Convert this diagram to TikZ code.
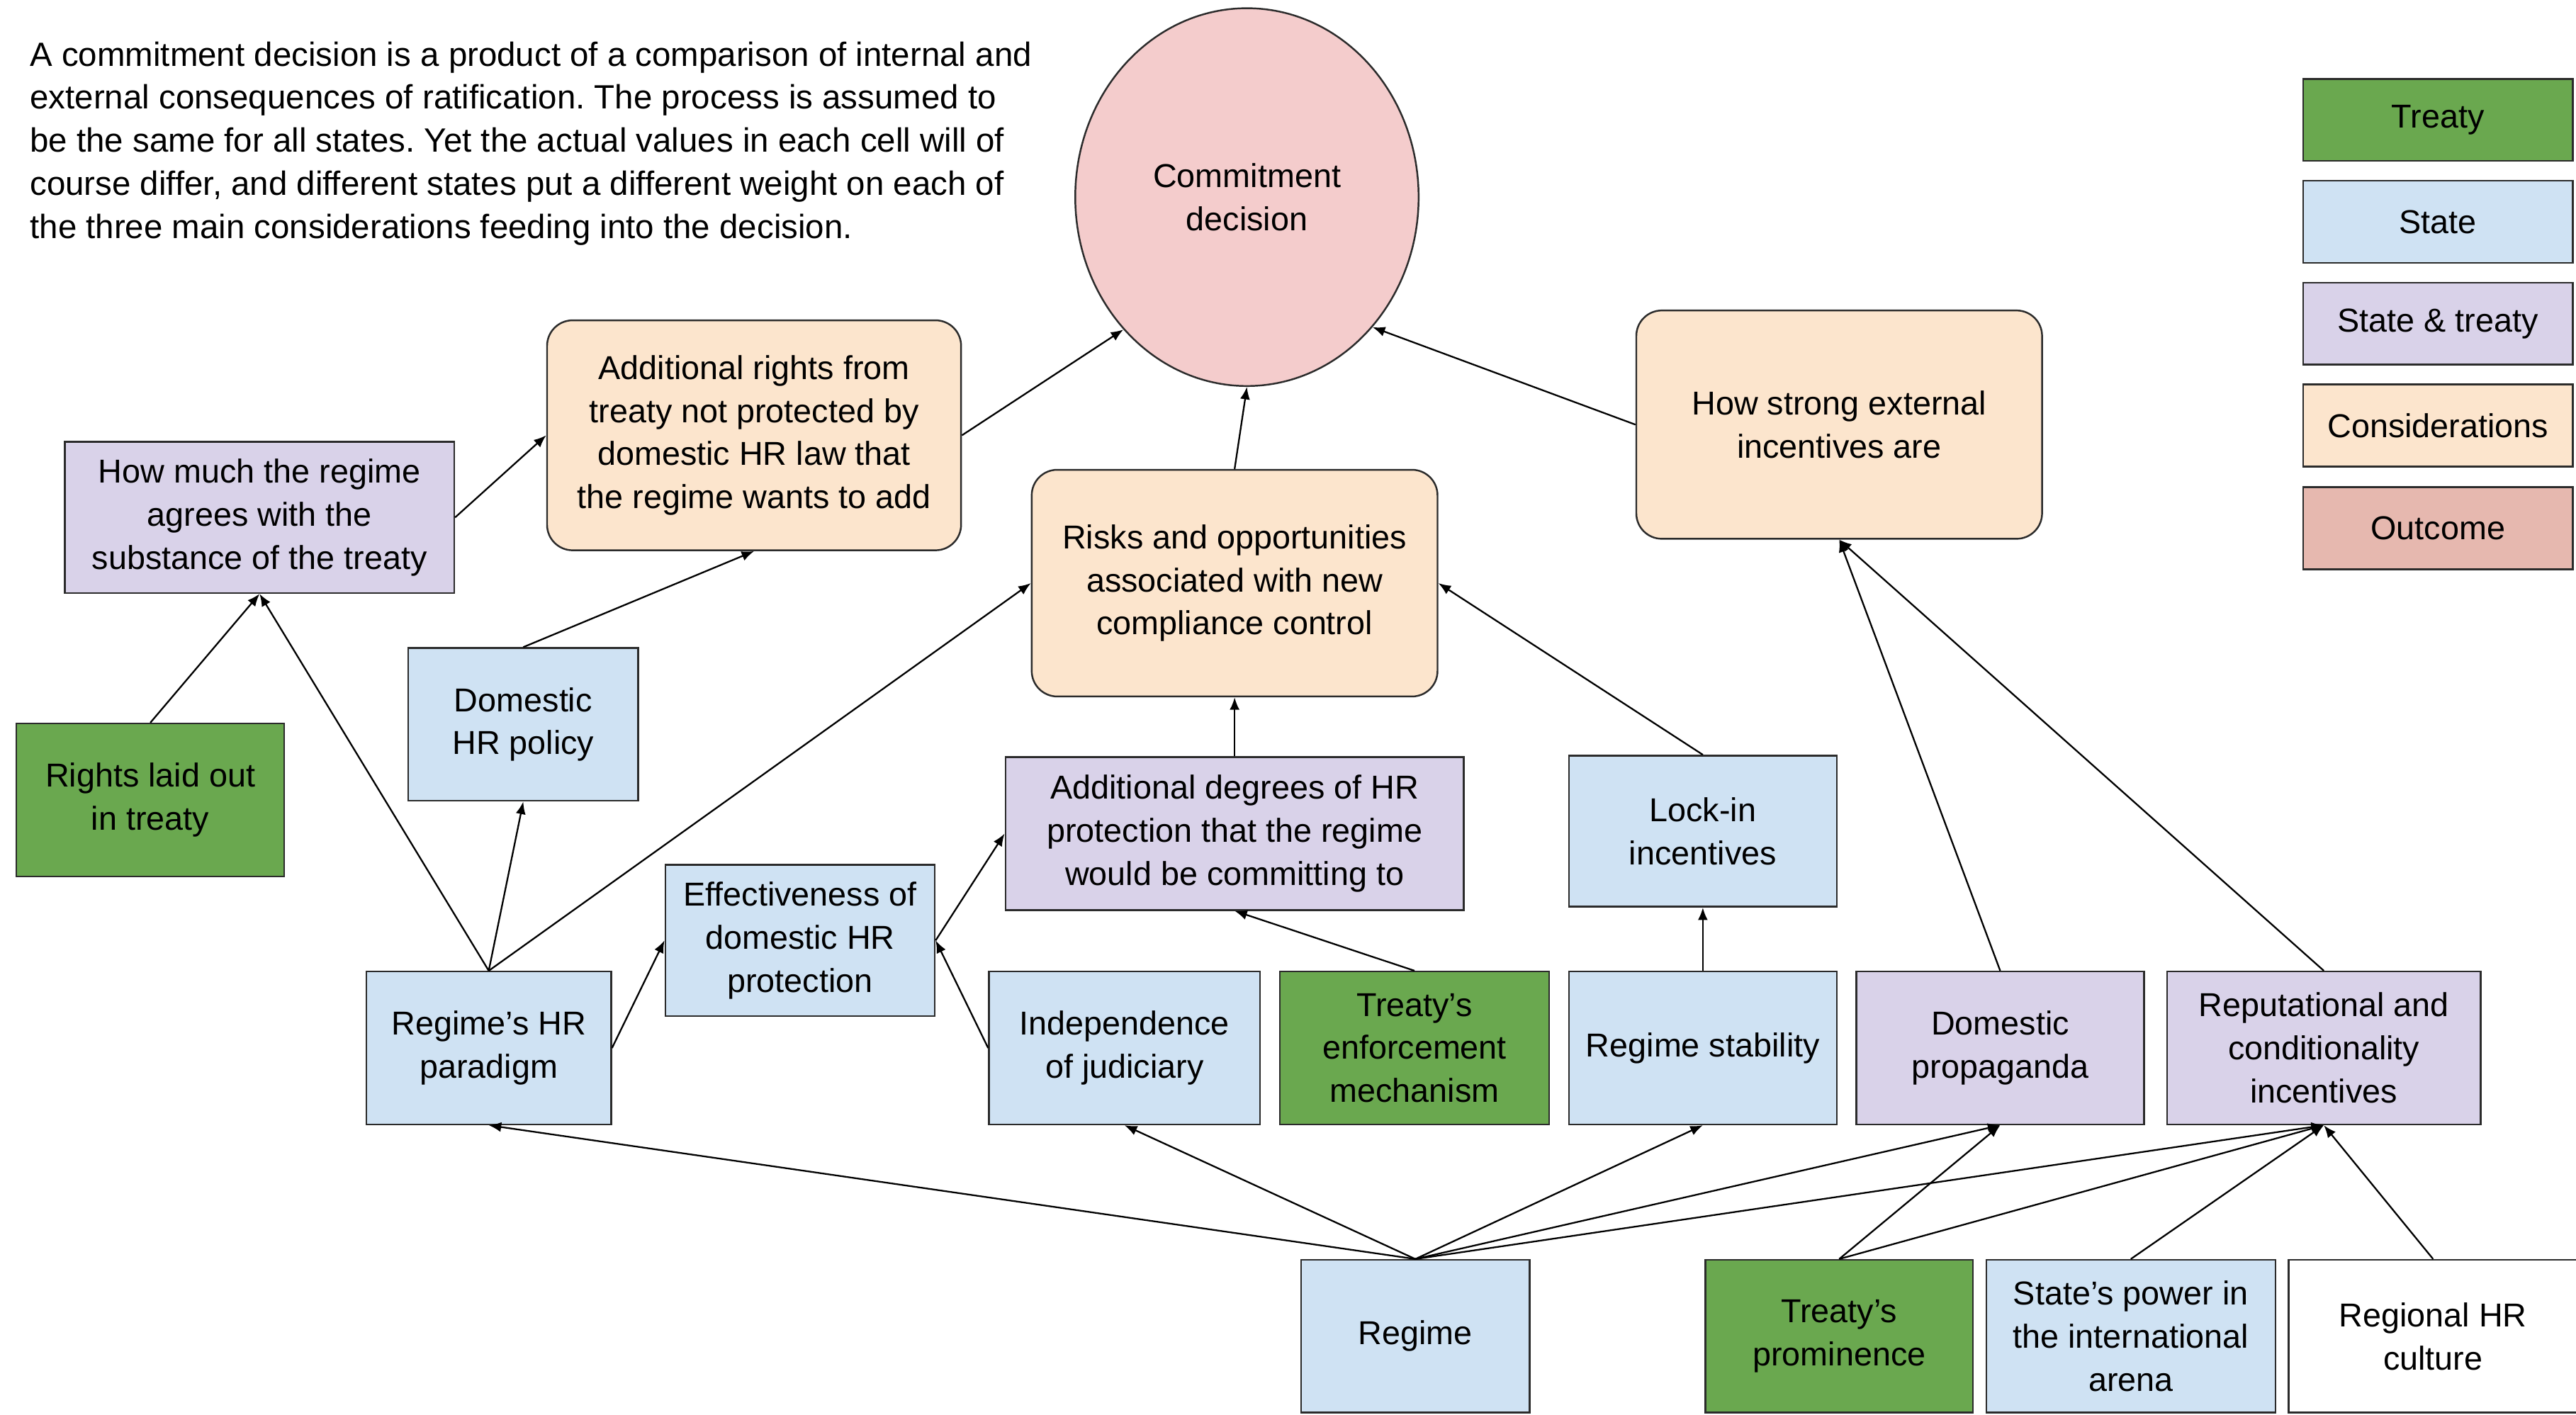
\documentclass[tikz,border=0pt]{standalone}
\usepackage{fontspec}
\setmainfont{Liberation Sans}
\usetikzlibrary{shapes.geometric,arrows.meta}
\frenchspacing

\definecolor{treatygreen}{HTML}{6AA84F}
\definecolor{stateblue}{HTML}{CFE2F3}
\definecolor{bothpurple}{HTML}{D9D2E9}
\definecolor{considpeach}{HTML}{FCE5CD}
\definecolor{outcomepink}{HTML}{F4CCCC}
\definecolor{outcomelegend}{HTML}{E6B8AF}
\definecolor{edgegray}{HTML}{2B2B2B}

\newcommand{\boxfont}{\fontsize{13.3}{17.3}\selectfont}
\newcommand{\notefont}{\fontsize{13.5}{17.3}\selectfont}

\tikzset{
  sz/.style 2 args={minimum width=#1*0.23182mm,minimum height=#2*0.23182mm},
  box/.style={draw=edgegray,line width=0.7pt,align=center,inner sep=2pt,font=\boxfont},
  treaty/.style={box,fill=treatygreen},
  state/.style={box,fill=stateblue},
  both/.style={box,fill=bothpurple},
  consid/.style={box,fill=considpeach,rounded corners=3.6mm},
  outcome/.style={box,ellipse,fill=outcomepink,inner sep=0pt},
  arr/.style={-{Latex[length=5pt,width=4pt]},line width=0.65pt,draw=black}
}

\newcommand{\legenditem}[4]{
  \node[#2,sz={164}{50}] (#1) at (1484,#3) {#4};
}

\begin{document}
\begin{tikzpicture}[x=0.23182mm,y=-0.23182mm]
  \useasboundingbox (0,0) rectangle (1568,861);

  % note
  \node[anchor=north west,inner sep=0pt,align=left,font=\notefont] (note) at (18,25)
    {A commitment decision is a product of a comparison of internal and\\
     external consequences of ratification. The process is assumed to\\
     be the same for all states. Yet the actual values in each cell will of\\
     course differ, and different states put a different weight on each of\\
     the three main considerations feeding into the decision.};

  % outcome and considerations
  \node[outcome,sz={209}{230}] (decision) at (759,120) {Commitment\\decision};
  \node[consid,sz={252}{140}] (addrights) at (459,265)
    {Additional rights from\\treaty not protected by\\domestic HR law that\\the regime wants to add};
  \node[consid,sz={247}{138}] (risks) at (751.5,355)
    {Risks and opportunities\\associated with new\\compliance control};
  \node[consid,sz={247}{139}] (howstrong) at (1119.5,258.5)
    {How strong external\\incentives are};

  % upper left
  \node[both,sz={237}{92}] (howmuch) at (158,315)
    {How much the regime\\agrees with the\\substance of the treaty};
  \node[treaty,sz={163}{93}] (rights) at (91.5,487) {Rights laid out\\in treaty};
  \node[state,sz={140}{93}] (hrpolicy) at (318.5,441) {Domestic\\HR policy};

  % middle
  \node[both,sz={279}{93}] (degrees) at (751.5,507.5)
    {Additional degrees of HR\\protection that the regime\\would be committing to};
  \node[state,sz={163}{92}] (lockin) at (1036.5,506) {Lock-in\\incentives};
  \node[state,sz={164}{92}] (effect) at (487,572.5) {Effectiveness of\\domestic HR\\protection};

  % second row
  \node[state,sz={149}{93}] (paradigm) at (297.5,638) {Regime’s HR\\paradigm};
  \node[state,sz={165}{93}] (indep) at (684.5,638) {Independence\\of judiciary};
  \node[treaty,sz={164}{93}] (enforce) at (861,638) {Treaty’s\\enforcement\\mechanism};
  \node[state,sz={163}{93}] (stability) at (1036.5,638) {Regime stability};
  \node[both,sz={175}{93}] (propaganda) at (1217.5,638) {Domestic\\propaganda};
  \node[both,sz={191}{93}] (reput) at (1414.5,638)
    {Reputational and\\conditionality\\incentives};

  % bottom row
  \node[state,sz={139}{93}] (regime) at (861.5,813.5) {Regime};
  \node[treaty,sz={163}{93}] (prominence) at (1119.5,813.5) {Treaty’s\\prominence};
  \node[state,sz={176}{93}] (power) at (1297,813.5) {State’s power in\\the international\\arena};
  \node[box,fill=white,sz={176}{93}] (regional) at (1481,813.5) {Regional HR\\culture};

  % legend
  \legenditem{lgtreaty}{treaty}{73}{Treaty}
  \legenditem{lgstate}{state}{135}{State}
  \legenditem{lgboth}{both}{197}{State \& treaty}
  \legenditem{lgconsid}{consid,rounded corners=0pt}{259}{Considerations}
  \legenditem{lgoutcome}{box,fill=outcomelegend}{321.5}{Outcome}

  % connectors
  \draw[arr] (rights.north) -- (howmuch.south);
  \draw[arr] (paradigm.north) -- (howmuch.south);
  \draw[arr] (paradigm.north) -- (hrpolicy.south);
  \draw[arr] (paradigm.north) -- (risks.west);
  \draw[arr] (paradigm.east) -- (effect.west);
  \draw[arr] (indep.west) -- (effect.east);
  \draw[arr] (effect.east) -- (degrees.west);
  \draw[arr] (hrpolicy.north) -- (addrights.south);
  \draw[arr] (howmuch.east) -- (addrights.west);
  \draw[arr] (addrights.east) -- (decision.227);
  \draw[arr] (risks.north) -- (decision.south);
  \draw[arr] (howstrong.west) -- (decision.-46);
  \draw[arr] (degrees.north) -- (risks.south);
  \draw[arr] (enforce.north) -- (degrees.south);
  \draw[arr] (lockin.north) -- (risks.east);
  \draw[arr] (stability.north) -- (lockin.south);
  \draw[arr] (propaganda.north) -- (howstrong.south);
  \draw[arr] (reput.north) -- (howstrong.south);

  \foreach \t in {paradigm,indep,stability,propaganda,reput}
    \draw[arr] (regime.north) -- (\t.south);
  \foreach \t in {propaganda,reput}
    \draw[arr] (prominence.north) -- (\t.south);
  \draw[arr] (power.north) -- (reput.south);
  \draw[arr] (regional.north) -- (reput.south);
\end{tikzpicture}
\end{document}
